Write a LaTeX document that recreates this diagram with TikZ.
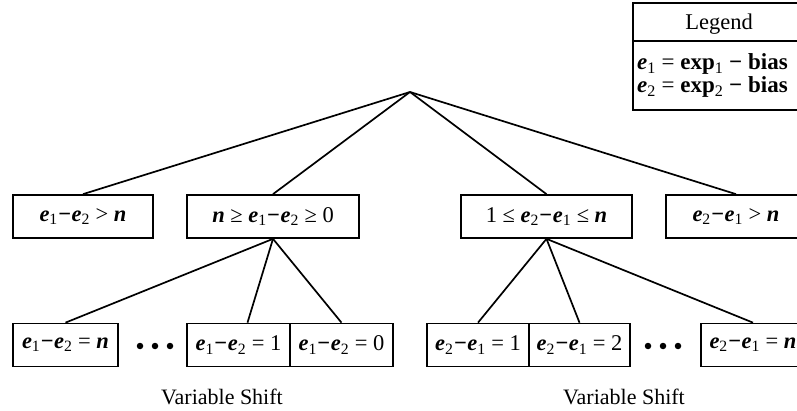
\documentclass[tikz,border=0pt]{standalone}
\usepackage{fontspec}
\setmainfont{Liberation Serif}
\newcommand\ev[1]{\textbf{\textit{e}}\textsubscript{#1}}
\newcommand\nv{\textbf{\textit{n}}}
\newcommand\mn{\kern0.5pt\textbf{−}\kern0.5pt}
\begin{document}
\begin{tikzpicture}[x=1pt,y=-1pt,
  lbl/.style={draw, line width=1.7pt, minimum height=43pt, inner sep=0pt,
    font=\fontsize{22.5}{26}\selectfont},
  link/.style={line width=1.7pt},
  dotnode/.style={circle, fill, inner sep=0pt, minimum size=6.5pt},
  captxt/.style={font=\fontsize{22}{26}\selectfont, inner sep=0pt, anchor=base},
  legtxt/.style={font=\fontsize{23}{26}\selectfont, inner sep=0pt},
  ]
\useasboundingbox (0,0) rectangle (797,411);
\clip (0,0) rectangle (797,411);

\coordinate (root) at (410,92);

% level 1
\node[lbl, minimum width=140pt] (b1) at (83,216.5) {\ev1\mn\ev2 > \nv};
\node[lbl, minimum width=172pt] (b2) at (273,216.5) {\nv\ ≥ \ev1\mn\ev2 ≥ 0};
\node[lbl, minimum width=171pt] (b3) at (546.5,216.5) {1 ≤ \ev2\mn\ev1 ≤ \nv};
\node[lbl, minimum width=140pt] (b4) at (736,216.5) {\ev2\mn\ev1 > \nv};

\foreach \b in {b1,b2,b3,b4} \draw[link] (root) -- (\b.north);

% level 2 left
\node[lbl, minimum width=105pt] (l1) at (65.5,345) {\ev1\mn\ev2 = \nv};
\node[lbl, minimum width=103pt] (l2) at (238.5,345) {\ev1\mn\ev2 = 1};
\node[lbl, minimum width=103pt] (l3) at (341.5,345) {\ev1\mn\ev2 = 0};
\node[dotnode] (d1) at (140,346) {};
\node[dotnode] (d2) at (155,346) {};
\node[dotnode] (d3) at (170,346) {};

\draw[link] (b2.south) -- (l1.north);
\draw[link] (b2.south) -- ([xshift=9pt]l2.north);
\draw[link] (b2.south) -- (l3.north);

% level 2 right
\node[lbl, minimum width=102pt] (r1) at (478,345) {\ev2\mn\ev1 = 1};
\node[lbl, minimum width=101pt] (r2) at (579.5,345) {\ev2\mn\ev1 = 2};
\node[lbl, minimum width=104pt] (r3) at (753,345) {\ev2\mn\ev1 = \nv};
\node[dotnode] (d4) at (648,346) {};
\node[dotnode] (d5) at (663,346) {};
\node[dotnode] (d6) at (678,346) {};

\draw[link] (b3.south) -- (r1.north);
\draw[link] (b3.south) -- (r2.north);
\draw[link] (b3.south) -- (r3.north);

% captions
\node[captxt] (vs1) at (222,404) {Variable Shift};
\node[captxt] (vs2) at (624,404) {Variable Shift};

% legend
\node[draw, line width=1.7pt, minimum width=172pt, minimum height=107pt, inner sep=0pt] (leg) at (719,56.5) {};
\coordinate (sepL) at (633,41);
\coordinate (sepR) at (805,41);
\draw[line width=1.7pt] (sepL) -- (sepR);
\node[font=\fontsize{22.5}{26}\selectfont, inner sep=0pt, anchor=base] (legt) at (719,30) {Legend};
\node[legtxt, anchor=base west] (lg1) at (637,70) {\ev1 = \textbf{exp}\textsubscript{1} \textbf{−} \textbf{bias}};
\node[legtxt, anchor=base west] (lg2) at (637,93) {\ev2 = \textbf{exp}\textsubscript{2} \textbf{−} \textbf{bias}};
\end{tikzpicture}
\end{document}
